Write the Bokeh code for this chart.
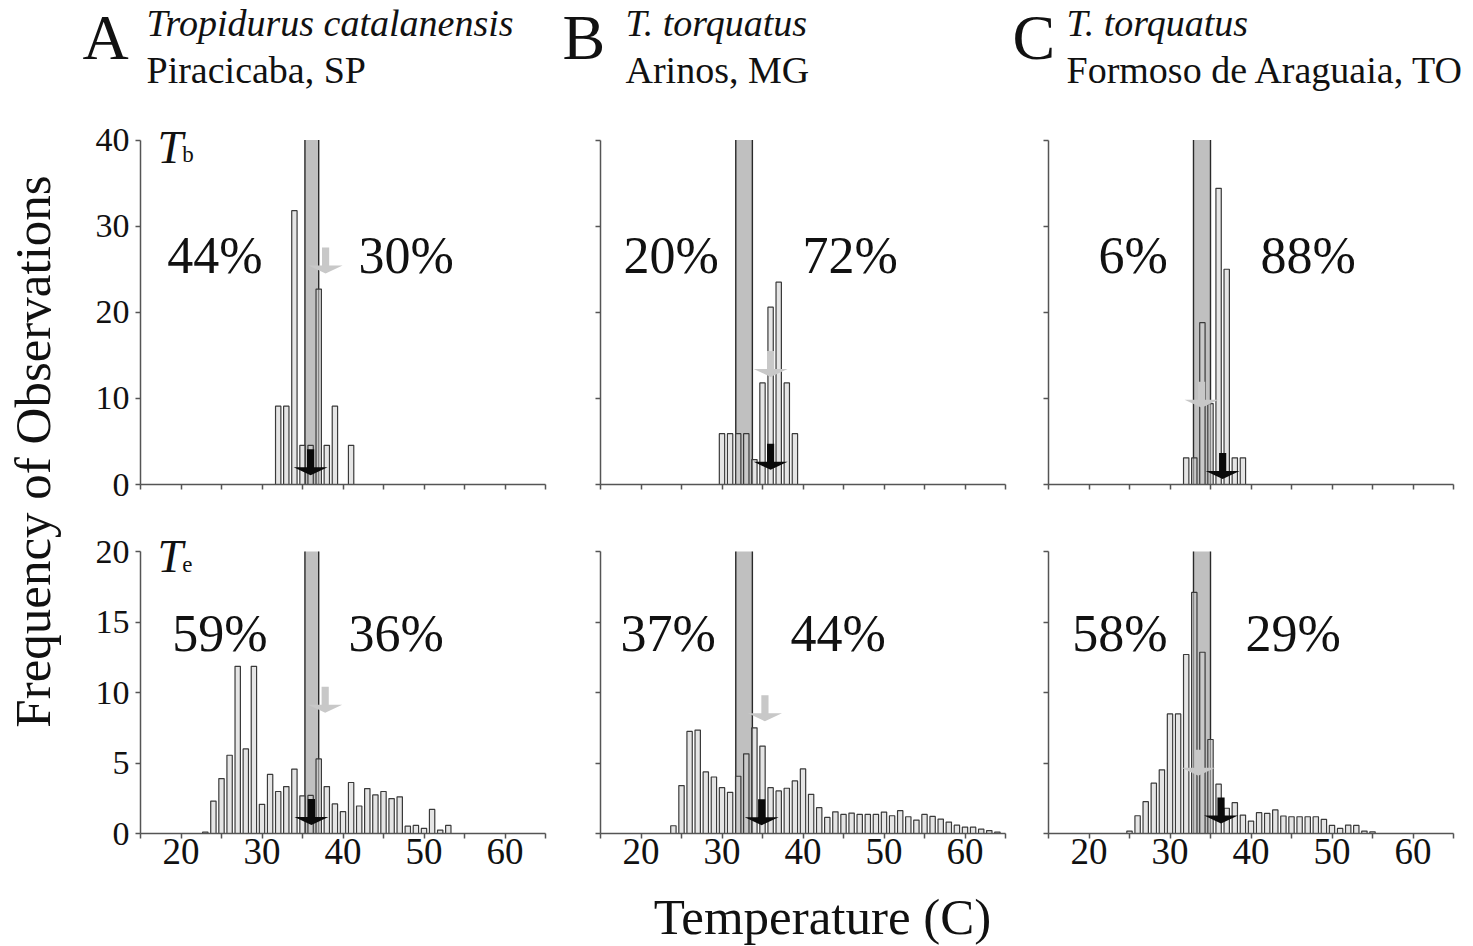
import math
from bokeh.plotting import figure
from bokeh.models import Range1d, FixedTicker, Label
from bokeh.layouts import row, column
from bokeh.embed import file_html
from bokeh.resources import INLINE

SERIF = "Liberation Serif"

# ---------------- data ----------------
letters = ["A", "B", "C"]
species = ["Tropidurus catalanensis", "T. torquatus", "T. torquatus"]
sites = ["Piracicaba, SP", "Arinos, MG", "Formoso de Araguaia, TO"]

x_ticks = [20, 30, 40, 50, 60]
x_minor = [15, 25, 35, 45, 55, 65]
tb_ticks = [0, 10, 20, 30, 40]
te_ticks = [0, 5, 10, 15, 20]

# body temperature (Tb) histograms, % of observations per 1 C bin
tb_a_temp = [32, 33, 34, 35, 36, 37, 38, 39, 41]
tb_a_freq = [9.1, 9.1, 31.8, 4.55, 4.55, 22.7, 4.55, 9.1, 4.55]
tb_b_temp = [30, 31, 32, 33, 34, 35, 36, 37, 38, 39]
tb_b_freq = [5.9, 5.9, 5.9, 5.9, 2.9, 11.8, 20.6, 23.5, 11.8, 5.9]
tb_c_temp = [32, 33, 34, 35, 36, 37, 38, 39]
tb_c_freq = [3.1, 3.1, 18.8, 9.4, 34.4, 25.0, 3.1, 3.1]

# operative temperature (Te) histograms
te_a_temp = list(range(23, 54))
te_a_freq = [0.1, 2.3, 3.9, 5.55, 11.86, 6.0, 11.86, 2.07, 4.19, 2.98, 3.33, 4.57,
             2.67, 2.7, 5.29, 3.33, 2.1, 1.55, 3.62, 1.95, 3.19, 2.74, 2.98, 2.48,
             2.6, 0.52, 0.57, 0.36, 1.71, 0.24, 0.57]
te_b_temp = list(range(24, 65))
te_b_freq = [0.55, 3.4, 7.24, 7.34, 4.37, 4.01, 3.25, 2.92, 4.06, 5.65, 7.5, 6.2,
             3.25, 3.02, 3.21, 3.73, 4.58, 2.78, 1.83, 1.14, 1.54, 1.35, 1.45, 1.35,
             1.35, 1.35, 1.52, 1.26, 1.62, 1.19, 0.95, 1.35, 1.21, 1.02, 0.81, 0.59,
             0.45, 0.45, 0.31, 0.21, 0.1]
te_c_temp = list(range(25, 56))
te_c_freq = [0.17, 1.26, 2.26, 3.57, 4.52, 8.48, 8.48, 12.7, 17.1, 12.86, 6.67, 3.5,
             1.79, 2.19, 1.31, 0.88, 1.48, 1.43, 1.67, 1.24, 1.19, 1.19, 1.19, 1.19,
             1.0, 0.57, 0.36, 0.6, 0.57, 0.17, 0.12]

# preferred temperature range (shaded band), per site
band_lo = [35.3, 31.7, 32.9]
band_hi = [37.0, 33.75, 35.0]

# arrows: (x, tip height); gray and black
tb_gray_x = [37.85, 36.0, 33.9]
tb_gray_tip = [24.5, 12.5, 8.9]
tb_black_x = [36.0, 36.0, 36.5]
tb_black_tip = [1.08, 1.7, 0.65]
te_gray_x = [37.8, 35.3, 33.5]
te_gray_tip = [8.57, 7.96, 4.1]
te_black_x = [36.1, 34.9, 36.3]
te_black_tip = [0.6, 0.59, 0.71]

# percentages below / above the preferred range
tb_pct_lo = ["44%", "20%", "6%"]
tb_pct_hi = ["30%", "72%", "88%"]
te_pct_lo = ["59%", "37%", "58%"]
te_pct_hi = ["36%", "44%", "29%"]

tb_sets = [(tb_a_temp, tb_a_freq), (tb_b_temp, tb_b_freq), (tb_c_temp, tb_c_freq)]
te_sets = [(te_a_temp, te_a_freq), (te_b_temp, te_b_freq), (te_c_temp, te_c_freq)]

# ---------------- layout / style ----------------
YT_W = 70
col_w = [502, 448, 450]
col_left = [70, 28, 28]
col_right = [27, 15, 17]
HDR_H = 100
row_h = [410, 375]
row_top = [31, 27]
row_bottom = [26, 52]
XT_H = 61
XMIN, XMAX = 15, 65
YAXIS_MAX = [40, 20]      # extent of the drawn y axis
YRANGE_MAX = [41, 21]     # a little head room for the T labels
TOTAL_W = YT_W + sum(col_w)
TOTAL_H = HDR_H + sum(row_h) + XT_H

AXIS_C = "#555555"
BAR_LINE = "#3a3a3a"
BAR_FILL = "#d0d0d0"
BAND_FILL = "#c0c0c0"
GRAY_ARROW = "#c8c8c8"
BLACK_ARROW = "#0a0a0a"

# in-panel text positions (data units of each panel)
pct_x_lo = [[18.30, 17.84, 21.17], [18.91, 17.47, 17.93]]
pct_x_hi = [[41.91, 39.94, 41.17], [40.68, 38.46, 39.32]]
pct_y = [26.55, 14.22]
sym_x, sub_x = 17.1, 20.15
sym_y = [39.1, 19.65]
sub_y = [38.35, 19.08]

# header positions (page pixels)
letter_px = [82, 562, 1012]
line_px = [146, 625, 1066]
letter_py, line1_py, line2_py = 36.5, 22.5, 69.5


def add_text(p, x, y, text, size, style="normal", align="left",
             baseline="middle", angle=0.0):
    p.add_layout(Label(x=x, y=y, text=text, text_font=SERIF,
                       text_font_size=f"{size}px", text_font_style=style,
                       text_align=align, text_baseline=baseline, angle=angle,
                       text_color="#111111"))


def blank_fig(w, h, x0, x1, y_top, y_bottom):
    f = figure(width=w, height=h, x_range=Range1d(x0, x1),
               y_range=Range1d(y_bottom, y_top), x_axis_type=None,
               y_axis_type=None, output_backend="svg", toolbar_location=None,
               min_border=0)
    f.outline_line_color = None
    f.grid.visible = False
    return f


def arrow_shape(x, tip, xpu, ypu):
    hw = 17.0 / xpu
    sw = 3.6 / xpu
    hh = 8.0 / ypu
    sh = 18.0 / ypu
    xs = [x - sw, x + sw, x + sw, x + hw, x, x - hw, x - sw]
    ys = [tip + hh + sh, tip + hh + sh, tip + hh, tip + hh, tip, tip + hh, tip + hh]
    return xs, ys


def make_panel(ci, ri):
    w, h = col_w[ci], row_h[ri]
    ytop = YAXIS_MAX[ri]
    yr = YRANGE_MAX[ri]
    p = figure(width=w, height=h, x_range=Range1d(XMIN, XMAX),
               y_range=Range1d(0, yr), output_backend="svg",
               toolbar_location=None,
               min_border_left=col_left[ci], min_border_right=col_right[ci],
               min_border_top=row_top[ri], min_border_bottom=row_bottom[ri])
    p.outline_line_color = None
    p.grid.visible = False

    frame_w = w - col_left[ci] - col_right[ci]
    frame_h = h - row_top[ri] - row_bottom[ri]
    xpu = frame_w / (XMAX - XMIN)
    ypu = frame_h / yr

    yt = tb_ticks if ri == 0 else te_ticks
    p.xaxis.ticker = FixedTicker(ticks=x_ticks, minor_ticks=x_minor)
    p.yaxis.ticker = FixedTicker(ticks=yt)
    p.yaxis.bounds = (0, ytop)
    for ax in p.axis:
        ax.axis_line_color = AXIS_C
        ax.axis_line_width = 1.5
        ax.major_tick_line_color = AXIS_C
        ax.major_tick_line_width = 1.5
        ax.minor_tick_line_color = AXIS_C
        ax.minor_tick_line_width = 1.5
        ax.major_tick_in = 0
        ax.major_tick_out = 5
        ax.minor_tick_in = 0
        ax.minor_tick_out = 5
        ax.major_label_text_font = SERIF
        ax.major_label_text_color = "#111111"
    p.yaxis.minor_tick_line_color = None
    p.yaxis.major_label_text_font_size = "34px"
    p.yaxis.major_label_standoff = 6
    p.xaxis.major_label_text_font_size = "37px"
    p.xaxis.major_label_standoff = 0
    if ri == 0:
        p.xaxis.major_label_text_font_size = "10px"
        p.xaxis.major_label_overrides = {t: "" for t in x_ticks}
    if ci > 0:
        p.yaxis.major_label_text_font_size = "10px"
        p.yaxis.major_label_overrides = {t: "" for t in yt}

    # preferred-temperature band
    lo, hi = band_lo[ci], band_hi[ci]
    p.quad(left=[lo], right=[hi], bottom=[0], top=[ytop], fill_color=BAND_FILL,
           line_color=None)
    p.segment(x0=[lo, hi], y0=[0, 0], x1=[lo, hi], y1=[ytop, ytop],
              line_color="#2a2a2a", line_width=1.4)

    temps, freqs = (tb_sets if ri == 0 else te_sets)[ci]
    p.vbar(x=temps, top=freqs, width=0.66, bottom=0, fill_color=BAR_FILL,
           fill_alpha=0.55, line_color=BAR_LINE, line_width=1.2)

    if ri == 0:
        gx, gt, bx, bt = tb_gray_x[ci], tb_gray_tip[ci], tb_black_x[ci], tb_black_tip[ci]
    else:
        gx, gt, bx, bt = te_gray_x[ci], te_gray_tip[ci], te_black_x[ci], te_black_tip[ci]
    gxs, gys = arrow_shape(gx, gt, xpu, ypu)
    bxs, bys = arrow_shape(bx, bt, xpu, ypu)
    p.patches(xs=[gxs], ys=[gys], fill_color=GRAY_ARROW, line_color=None)
    p.patches(xs=[bxs], ys=[bys], fill_color=BLACK_ARROW, line_color=None)

    lo_txt = (tb_pct_lo if ri == 0 else te_pct_lo)[ci]
    hi_txt = (tb_pct_hi if ri == 0 else te_pct_hi)[ci]
    add_text(p, pct_x_lo[ri][ci], pct_y[ri], lo_txt, 52)
    add_text(p, pct_x_hi[ri][ci], pct_y[ri], hi_txt, 52)

    if ci == 0:
        add_text(p, sym_x, sym_y[ri], "T", 46, style="italic")
        add_text(p, sub_x, sub_y[ri], "b" if ri == 0 else "e", 23)
    return p


panels = [[make_panel(ci, ri) for ci in range(3)] for ri in range(2)]

# header strip (page-pixel coordinates, y downward)
header = blank_fig(sum(col_w), HDR_H, YT_W, TOTAL_W, 0, HDR_H)
for ci in range(3):
    add_text(header, letter_px[ci], letter_py, letters[ci], 64)
    add_text(header, line_px[ci], line1_py, species[ci], 38, style="italic")
    add_text(header, line_px[ci], line2_py, sites[ci], 38)

# x-axis title strip
xt_top = HDR_H + sum(row_h)
xtitle = blank_fig(sum(col_w), XT_H, YT_W, TOTAL_W, xt_top, xt_top + XT_H)
add_text(xtitle, 822, 916, "Temperature (C)", 51, align="center")

# y-axis title strip
ytitle = blank_fig(YT_W, TOTAL_H, 0, YT_W, 0, TOTAL_H)
add_text(ytitle, 32, 451, "Frequency of Observations", 51, align="center",
         angle=math.pi / 2)

layout = row(ytitle, column(header, row(*panels[0]), row(*panels[1]), xtitle))

open("out.html", "w").write(file_html(layout, INLINE))
